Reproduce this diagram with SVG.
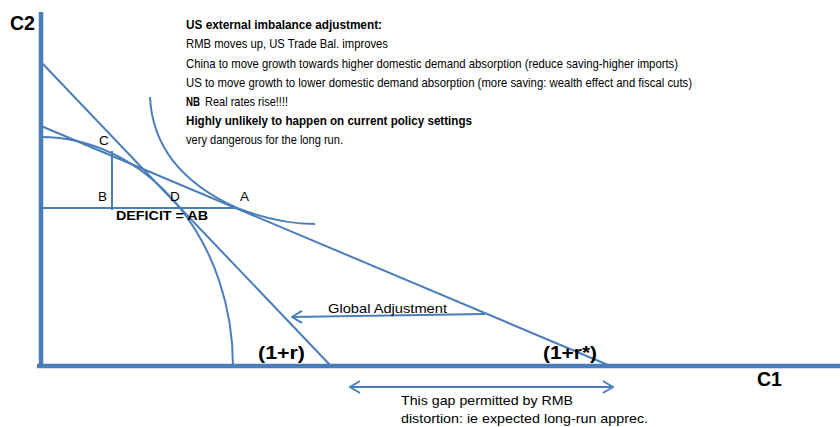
<svg xmlns="http://www.w3.org/2000/svg" width="840" height="427" viewBox="0 0 840 427">
<style>
.ln{fill:none;stroke:#4a7ebb;stroke-width:2}
.ax{fill:none;stroke:#4a7ebb;stroke-width:4.5}
.t{font-family:"Liberation Sans",Arial,sans-serif;fill:#000}
.h{font-size:13.5px}
.b{font-weight:bold}
.lb{font-size:13.5px}
</style>
<defs>
<marker id="ah" viewBox="0 0 12 14" refX="11" refY="7" markerWidth="12" markerHeight="14" markerUnits="userSpaceOnUse" orient="auto-start-reverse">
<path d="M1,1 L11,7 L1,13" fill="none" stroke="#4a7ebb" stroke-width="2"/>
</marker>
</defs>
<g id="axes">
<line class="ax" x1="41" y1="12" x2="41" y2="368"/>
<line class="ax" x1="37" y1="366" x2="840" y2="366"/>
</g>
<g id="connectors">
<line id="line-1r" class="ln" x1="41" y1="62" x2="330" y2="365"/>
<line id="line-1rstar" class="ln" x1="41" y1="126" x2="608" y2="365"/>
<path id="ppf" class="ln" d="M41,137 A192,229 0 0 1 233,366"/>
<path id="indiff" class="ln" d="M150,97 C152,140 175,180 237,208 C265,219 290,224 315,224"/>
<line id="bc" class="ln" x1="112" y1="151" x2="112" y2="210"/>
<line id="ba" class="ln" x1="41" y1="208" x2="238" y2="208"/>
<line id="global-adj" class="ln" x1="485" y1="314" x2="292" y2="317" marker-end="url(#ah)"/>
<line id="gap" class="ln" x1="350" y1="387" x2="613" y2="387" marker-start="url(#ah)" marker-end="url(#ah)"/>
</g>
<g id="labels">
<text class="t b" x="10" y="30" font-size="19.5">C2</text>
<text class="t b" x="757" y="386" font-size="19.5">C1</text>
<text class="t b" x="258" y="359" font-size="18" textLength="47" lengthAdjust="spacingAndGlyphs">(1+r)</text>
<text class="t b" x="543" y="359" font-size="18" textLength="54" lengthAdjust="spacingAndGlyphs">(1+r*)</text>
<text class="t lb" x="99" y="145">C</text>
<text class="t lb" x="98" y="201">B</text>
<text class="t lb" x="170" y="201">D</text>
<text class="t lb" x="240" y="201">A</text>
<text class="t b" x="116" y="220" font-size="13.5" textLength="92" lengthAdjust="spacingAndGlyphs">DEFICIT = AB</text>
<text class="t" x="328" y="313" font-size="13.5" textLength="119" lengthAdjust="spacingAndGlyphs">Global Adjustment</text>
<text class="t" x="401" y="405" font-size="13" textLength="172" lengthAdjust="spacingAndGlyphs">This gap permitted by RMB</text>
<text class="t" x="401" y="423" font-size="13" textLength="247" lengthAdjust="spacingAndGlyphs">distortion: ie expected long-run apprec.</text>
</g>
<g id="notes">
<text class="t h b" x="186" y="29" textLength="196" lengthAdjust="spacingAndGlyphs">US external imbalance adjustment:</text>
<text class="t h" x="186" y="48" textLength="202" lengthAdjust="spacingAndGlyphs">RMB moves up, US Trade Bal. improves</text>
<text class="t h" x="186" y="67.5" textLength="492" lengthAdjust="spacingAndGlyphs">China to move growth towards higher domestic demand absorption (reduce saving-higher imports)</text>
<text class="t h" x="186" y="87" textLength="506" lengthAdjust="spacingAndGlyphs">US to move growth to lower domestic demand absorption (more saving: wealth effect and fiscal cuts)</text>
<text class="t h b" x="186" y="106" textLength="14" lengthAdjust="spacingAndGlyphs">NB</text>
<text class="t h" x="205" y="106" textLength="83" lengthAdjust="spacingAndGlyphs">Real rates rise!!!!</text>
<text class="t h b" x="186" y="125" textLength="286" lengthAdjust="spacingAndGlyphs">Highly unlikely to happen on current policy settings</text>
<text class="t h" x="186" y="144" textLength="157" lengthAdjust="spacingAndGlyphs">very dangerous for the long run.</text>
</g>
</svg>
